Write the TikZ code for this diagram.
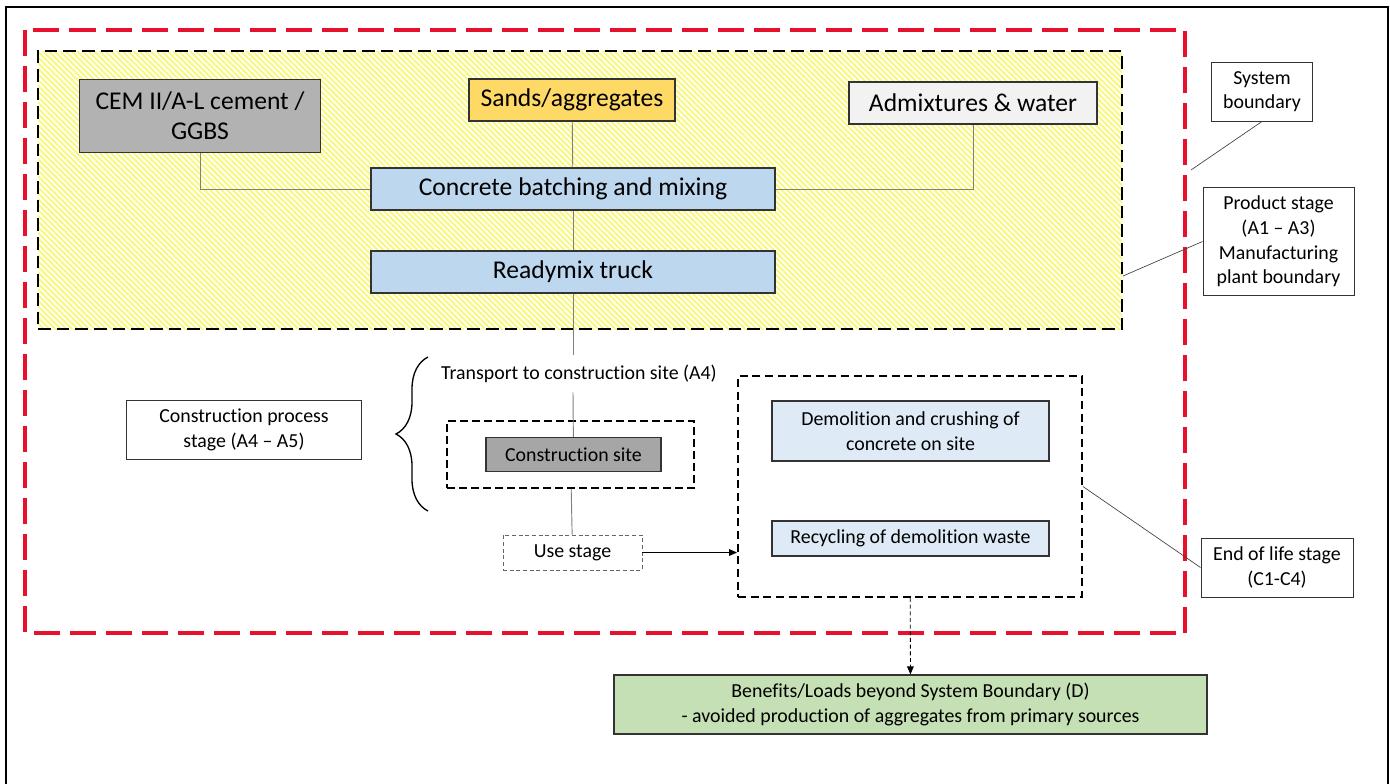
\documentclass[tikz,border=0pt]{standalone}
\usepackage{fontspec}
\setmainfont{Carlito}[Ligatures=NoCommon]
\usetikzlibrary{arrows.meta,patterns.meta,decorations.pathreplacing}
\definecolor{sysred}{RGB}{232,17,45}
\definecolor{hatch}{RGB}{248,248,125}
\definecolor{cemgray}{RGB}{178,178,178}
\definecolor{sandgold}{RGB}{255,217,102}
\definecolor{admixgray}{RGB}{242,242,242}
\definecolor{mixblue}{RGB}{189,215,238}
\definecolor{sitegray}{RGB}{166,166,166}
\definecolor{eolblue}{RGB}{222,235,247}
\definecolor{benegreen}{RGB}{197,224,180}
\begin{document}
\begin{tikzpicture}[x=0.75pt,y=-0.75pt,
  box/.style={draw=black!80,line width=0.9pt,inner sep=2pt,align=center},
  big/.style={font=\fontsize{19.2}{22.5}\selectfont},
  small/.style={font=\fontsize{14.9}{18.5}\selectfont},
  link/.style={draw=black!50,line width=0.7pt},
  note/.style={draw=black!75,line width=0.5pt}]

\useasboundingbox (0,0) rectangle (1390,783);
\draw[line width=1.6pt] (6,790) -- (6,7) -- (1388,7) -- (1388,790);

% system boundary
\draw[sysred,line width=3pt,dash pattern=on 19.5pt off 7.5pt] (24.5,30) rectangle (1185,633);

% manufacturing plant
\node[draw,line width=2pt,dash pattern=on 9.5pt off 4.5pt,
  pattern={Lines[angle=-45,distance=3pt,line width=1.5pt]},pattern color=hatch,
  minimum width=813pt,minimum height=208.5pt] (plant) at (580,190) {};

\node[box,big,fill=cemgray,minimum width=180.75pt,minimum height=54.75pt] (cem) at (200,116) {CEM II/A-L cement /\\GGBS};
\node[box,big,fill=sandgold,minimum width=154.5pt,minimum height=31.5pt] (sands) at (572,100) {Sands/aggregates};
\node[box,big,fill=admixgray,minimum width=186pt,minimum height=31.5pt] (admix) at (973,103) {Admixtures \& water};
\node[box,big,fill=mixblue,minimum width=303pt,minimum height=31.5pt] (batch) at (573,189) {Concrete batching and mixing};
\node[box,big,fill=mixblue,minimum width=303pt,minimum height=31.5pt] (truck) at (573,272) {Readymix truck};

\draw[link] (cem.south) |- (batch.west);
\draw[link] (admix.south) |- (batch.east);
\draw[link] (sands) -- (batch);
\draw[link] (batch) -- (truck);

% construction process
\node[small,inner sep=0pt,minimum height=27.75pt] (trans) at (579,373.5) {Transport to construction site (A4)};
\node[draw,line width=1.5pt,dash pattern=on 6pt off 3pt,minimum width=185.25pt,minimum height=50.25pt] (sitebox) at (570.5,454.5) {};
\node[box,small,fill=sitegray,minimum width=131.25pt,minimum height=25.5pt] (site) at (573.5,454.5) {Construction site};
\node[box,small,draw=black!60,line width=0.7pt,dash pattern=on 3pt off 2pt,minimum width=104.25pt,minimum height=26.25pt] (use) at (572.5,552.5) {Use stage};
\node[box,small,minimum width=176.25pt,minimum height=44.25pt] (cstage) at (244,430) {Construction process\\stage (A4 – A5)};

\draw[link] (truck) -- (truck |- trans.north);
\draw[link] (truck |- trans.south) -- (site);
\draw[link] (sitebox) -- (use);
\draw[line width=1pt,decorate,decoration={brace,amplitude=24pt}] (428,511) -- (428,357);

% end of life
\node[draw,line width=1.4pt,dash pattern=on 6pt off 3.5pt,minimum width=258pt,minimum height=165.75pt] (eol) at (910,486.5) {};
\node[box,small,fill=eolblue,minimum width=207.75pt,minimum height=45pt] (demol) at (910.5,431) {Demolition and crushing of\\concrete on site};
\node[box,small,fill=eolblue,minimum width=207.75pt,minimum height=26.25pt] (recyc) at (910.5,538.5) {Recycling of demolition waste};
\node[box,small,fill=benegreen,minimum width=444.75pt,minimum height=44.25pt] (bene) at (910.5,704.5) {Benefits/Loads beyond System Boundary (D)\\- avoided production of aggregates from primary sources};

\draw[line width=0.8pt,-{Triangle[length=6pt,width=5pt]}] (use) -- (use -| eol.west);
\draw[line width=0.6pt,dash pattern=on 3pt off 2pt,-{Triangle[length=6pt,width=5pt]}] (eol) -- (bene);

% labels
\node[box,small,line width=0.7pt,minimum width=75.75pt,minimum height=44.25pt] (sysb) at (1262,91.5) {System\\boundary};
\node[box,small,line width=0.7pt,minimum width=113.25pt,minimum height=81pt] (prod) at (1278.5,241.5) {Product stage\\(A1 – A3)\\Manufacturing\\plant boundary};
\node[box,small,line width=0.7pt,minimum width=114pt,minimum height=44.25pt] (eolb) at (1277,567.5) {End of life stage\\(C1-C4)};
\coordinate (sysend) at (1191,170);
\coordinate (plantend) at (1123,276);
\draw[note] (sysb.south) -- (sysend);
\draw[note] (prod.west) -- (plantend);
\draw[note] (eolb.west) -- (eol.east);

\end{tikzpicture}
\end{document}
